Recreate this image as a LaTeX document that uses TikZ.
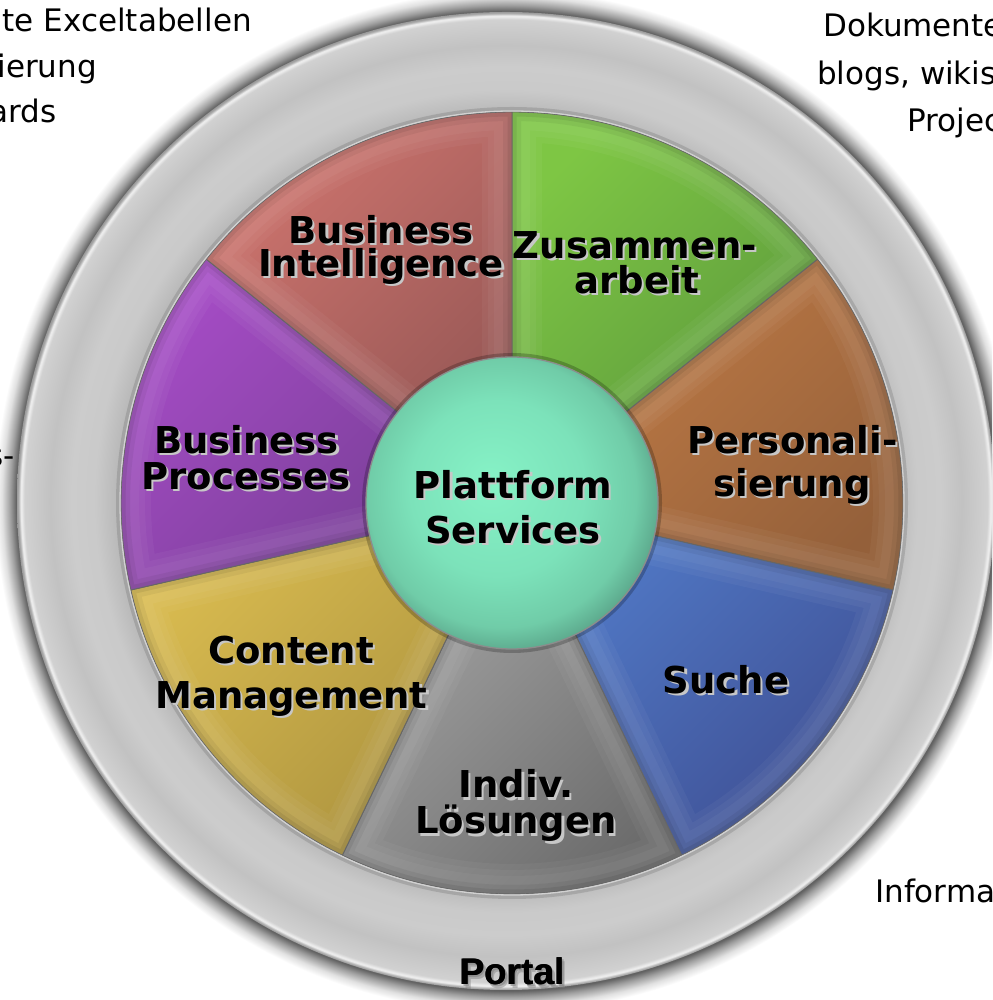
\documentclass[tikz,border=0pt]{standalone}
\usepackage{fontspec}
\setmainfont{DejaVu Sans}
\newfontfamily\portalfont{Liberation Sans}
\definecolor{biL}{RGB}{206,116,110}
\definecolor{biD}{RGB}{148,86,84}
\definecolor{zuL}{RGB}{126,198,68}
\definecolor{zuD}{RGB}{90,150,60}
\definecolor{peL}{RGB}{194,124,70}
\definecolor{peD}{RGB}{148,96,58}
\definecolor{suL}{RGB}{82,124,202}
\definecolor{suD}{RGB}{62,78,146}
\definecolor{inL}{RGB}{168,168,168}
\definecolor{inD}{RGB}{108,108,108}
\definecolor{coL}{RGB}{218,188,80}
\definecolor{coD}{RGB}{170,145,62}
\definecolor{bpL}{RGB}{166,76,198}
\definecolor{bpD}{RGB}{116,62,146}
\definecolor{hubA}{RGB}{134,242,198}
\definecolor{hubB}{RGB}{124,226,186}
\definecolor{hubC}{RGB}{112,204,168}
\definecolor{hubD}{RGB}{92,168,140}
\pgfdeclareradialshading{ringshade}{\pgfpointorigin}{%
 color(0bp)=(black!25); color(20bp)=(black!27); color(21bp)=(black!21);
 color(22.2bp)=(black!20); color(23.3bp)=(black!24); color(24.2bp)=(black!20);
 color(24.62bp)=(black!18); color(24.8bp)=(black!5); color(24.93bp)=(black!33);
 color(25bp)=(black!40); color(40bp)=(black!40)}
\pgfdeclareradialshading{ringglow}{\pgfpointorigin}{%
 color(0bp)=(black!62); color(23.95bp)=(black!62); color(24.25bp)=(black!38);
 color(24.65bp)=(black!12); color(25bp)=(white); color(40bp)=(white)}
\pgfdeclareradialshading{hubshade}{\pgfpoint{-4bp}{4bp}}{%
 color(0bp)=(hubA); color(15bp)=(hubB); color(23bp)=(hubC);
 color(27bp)=(hubD); color(40bp)=(hubD)}
\tikzset{
 lbl/.style={font=\fontsize{37pt}{37pt}\selectfont\bfseries, inner sep=0pt, anchor=base, text=black},
 lblsh/.style={lbl, text=black!22},
 portaltxt/.style={font=\portalfont\bfseries\fontsize{37pt}{37pt}\selectfont, inner sep=0pt, anchor=base, text=black},
 side/.style={font=\fontsize{31pt}{31pt}\selectfont, inner sep=0pt, text=black},
 sliceedge/.style={draw=black!60, line width=0.9pt}
}
\newcommand{\myslice}[4]{%
 \begin{scope}
  \clip (C) -- ++(#1:391pt) arc[start angle=#1,end angle=#2,radius=391pt] -- cycle;
  \shade[top color=#3,bottom color=#4,shading angle=45] (C) -- ++(#1:391pt) arc[start angle=#1,end angle=#2,radius=391pt] -- cycle;
  \draw[white,opacity=0.04,line width=60pt] (C) -- ++(#1:391pt) arc[start angle=#1,end angle=#2,radius=391pt] -- cycle;
  \draw[white,opacity=0.04,line width=48pt] (C) -- ++(#1:391pt) arc[start angle=#1,end angle=#2,radius=391pt] -- cycle;
  \draw[white,opacity=0.04,line width=36pt] (C) -- ++(#1:391pt) arc[start angle=#1,end angle=#2,radius=391pt] -- cycle;
  \draw[black,opacity=0.05,line width=18pt] (C) -- ++(#1:391pt) arc[start angle=#1,end angle=#2,radius=391pt] -- cycle;
  \draw[black,opacity=0.07,line width=9pt] (C) -- ++(#1:391pt) arc[start angle=#1,end angle=#2,radius=391pt] -- cycle;
 \end{scope}
 \draw[sliceedge] (C) -- ++(#1:391pt) arc[start angle=#1,end angle=#2,radius=391pt] -- cycle;
}
\newcommand{\lbl}[4]{%
 \node[lblsh] (#1s) at (#2+2.2,#3-2.2) {#4};
 \node[lbl] (#1) at (#2,#3) {#4};
}
\begin{document}
\begin{tikzpicture}[x=1pt,y=1pt]
\useasboundingbox (0,0) rectangle (992,1000);
\clip (0,0) rectangle (992,1000);
\fill[white] (0,0) rectangle (992,1000);
\coordinate (R0) at (506,499);
\coordinate (C) at (512,497);
\coordinate (H) at (512,497);
% ring shadow and ring
\shade[shading=ringglow] (R0) circle[radius=511pt];
\shade[shading=ringshade] (R0) circle[radius=489pt];
% slices
\myslice{90}{38.571}{zuL}{zuD}
\myslice{38.571}{-12.857}{peL}{peD}
\myslice{-12.857}{-64.286}{suL}{suD}
\myslice{-64.286}{-115.714}{inL}{inD}
\myslice{-115.714}{-167.143}{coL}{coD}
\myslice{-167.143}{-218.571}{bpL}{bpD}
\myslice{141.429}{90}{biL}{biD}
\draw[black,opacity=0.12,line width=4pt] (C) circle[radius=394pt];
\draw[white!82!black,line width=1.3pt] (C) circle[radius=392pt];
% hub
\draw[black,opacity=0.22,line width=4pt] (H) circle[radius=148pt];
\shadedraw[shading=hubshade,draw=black!45,line width=1.3pt] (H) circle[radius=146pt];
% labels
\lbl{bia}{381}{756.7}{Business}
\lbl{bib}{381}{723.3}{Intelligence}
\lbl{zua}{635}{741.7}{Zusammen-}
\lbl{zub}{637}{706.7}{arbeit}
\lbl{pea}{792.5}{546.7}{Personali-}
\lbl{peb}{792}{503.3}{sierung}
\lbl{bpa}{246.5}{546.7}{Business}
\lbl{bpb}{246}{510.7}{Processes}
\lbl{pla}{513}{501.7}{Plattform}
\lbl{plb}{513}{456.7}{Services}
\lbl{coa}{291}{336.7}{Content}
\lbl{cob}{291.5}{291.7}{Management}
\lbl{sua}{726}{306.7}{Suche}
\lbl{ina}{516}{202}{Indiv.}
\lbl{inb}{516}{166}{Lösungen}
% Portal with soft dark shadow and a slightly heavier stroke
\node[portaltxt, text=black!50, opacity=0.45] (portals1) at (515.5,11.5) {Portal};
\node[portaltxt, text=black!50, opacity=0.55] (portals2) at (514,13) {Portal};
\node[portaltxt] (portalb) at (512.6,15) {Portal};
\node[portaltxt] (portal) at (512,15) {Portal};
% side texts
\node[side, anchor=base east] (t1) at (252,968) {te Exceltabellen};
\node[side, anchor=base east] (t2) at (97,922) {ierung};
\node[side, anchor=base east] (t3) at (57,877) {ards};
\node[side, anchor=base west] (t4) at (823,963) {Dokumente};
\node[side, anchor=base west] (t5) at (817,915) {blogs, wikis};
\node[side, anchor=base west] (t6) at (907,868) {Projec};
\node[side, anchor=base east] (t7) at (15,533) {s-};
\node[side, anchor=base west] (t8) at (875,97) {Informa};
\end{tikzpicture}
\end{document}
